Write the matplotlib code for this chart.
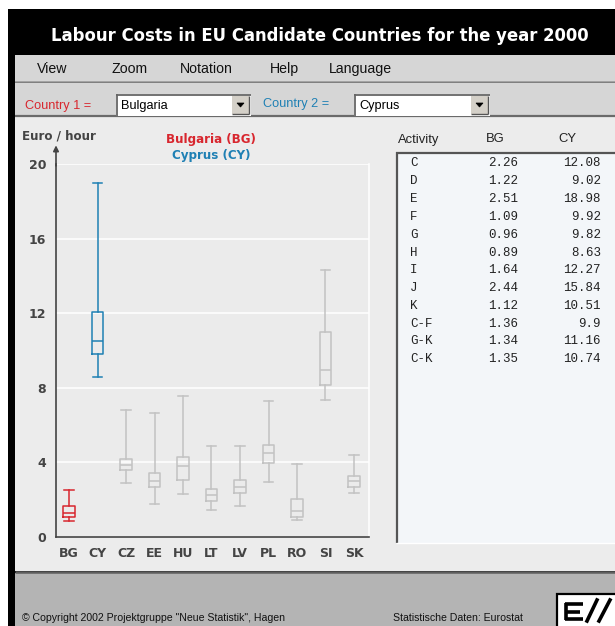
import matplotlib
matplotlib.use("Agg")
import matplotlib.pyplot as plt
from matplotlib.patches import Rectangle, Polygon

# ---------------- data ----------------
countries = ["BG", "CY", "CZ", "EE", "HU", "LT", "LV", "PL", "RO", "SI", "SK"]
whisk_lo = [0.86, 8.60, 2.89, 1.75, 2.29, 1.47, 1.68, 2.97, 0.93, 7.36, 2.36]
q1       = [1.08, 9.80, 3.57, 2.68, 3.04, 1.93, 2.36, 3.99, 1.07, 8.13, 2.68]
median   = [1.30, 10.51, 3.86, 3.00, 3.79, 2.25, 2.66, 4.49, 1.39, 8.95, 2.98]
q3       = [1.64, 12.08, 4.20, 3.45, 4.27, 2.57, 3.04, 4.93, 2.02, 11.01, 3.25]
whisk_hi = [2.51, 18.98, 6.81, 6.63, 7.58, 4.86, 4.86, 7.31, 3.91, 14.30, 4.38]

activities = ["C", "D", "E", "F", "G", "H", "I", "J", "K", "C-F", "G-K", "C-K"]
bg_values = ["2.26", "1.22", "2.51", "1.09", "0.96", "0.89", "1.64", "2.44", "1.12", "1.36", "1.34", "1.35"]
cy_values = ["12.08", "9.02", "18.98", "9.92", "9.82", "8.63", "12.27", "15.84", "10.51", "9.9", "11.16", "10.74"]

y_ticks = [0, 4, 8, 12, 16, 20]
menu_items = ["View", "Zoom", "Notation", "Help", "Language"]
title = "Labour Costs in EU Candidate Countries for the year 2000"

RED = "#d8262e"
BLUE = "#1f80b4"
GRAYBOX = "#c2c2c2"
AXCOL = "#444444"
UIFONT = "Liberation Sans"

W, H = 615, 626
fig = plt.figure(figsize=(W / 100, H / 100), dpi=100)
fig.patch.set_facecolor("white")

# background UI axes in pixel coordinates (y downward)
bg = fig.add_axes([0, 0, 1, 1])
bg.set_xlim(0, W)
bg.set_ylim(H, 0)
bg.axis("off")

def rect(x0, y0, x1, y1, fc, ec="none", lw=0, z=1):
    bg.add_patch(Rectangle((x0, y0), x1 - x0, y1 - y0, facecolor=fc,
                           edgecolor=ec, linewidth=lw, zorder=z))

def hline(x0, x1, y, c, lw=1, z=3):
    bg.plot([x0, x1], [y, y], color=c, lw=lw, zorder=z, solid_capstyle="butt")

def vline(x, y0, y1, c, lw=1, z=3):
    bg.plot([x, x], [y0, y1], color=c, lw=lw, zorder=z, solid_capstyle="butt")

# outer black frame / title bar
rect(8, 9, W, H, "black")
bg.text(320, 36, title, color="white", fontsize=11.9, ha="center", va="center",
        family="DejaVu Sans", fontweight="bold")

# menu bar
rect(15, 55, W, 82, "#d6d6d6", z=2)
hline(15, W, 82, "#9a9a9a", lw=1.2)
menu_x = [37, 111, 180, 270, 329]
for mx, item in zip(menu_x, menu_items):
    bg.text(mx, 69, item, fontsize=10.2, ha="left", va="center",
            family=UIFONT, color="#111111", zorder=4)

# country row
rect(15, 83, W, 115, "#d6d6d6", z=2)
hline(15, W, 116, "#6a6a6a", lw=1.6)
bg.text(25, 105.5, "Country 1 =", fontsize=9.2, color=RED, ha="left", va="center",
        family=UIFONT, zorder=4)
bg.text(263, 104.5, "Country 2 =", fontsize=9.2, color=BLUE, ha="left", va="center",
        family=UIFONT, zorder=4)

def combo(x0, x1, label):
    rect(x0, 94, x1, 116, "white", z=3)
    hline(x0, x1, 94.5, "#666666", lw=1.3, z=4)
    vline(x0 + 0.5, 94, 116, "#666666", lw=1.3, z=4)
    bx0, bx1 = x1 - 19, x1 - 2
    rect(bx0, 96, bx1, 113.5, "#d4d0c8", z=4)
    hline(bx0, bx1, 113.5, "#555555", lw=1, z=5)
    vline(bx1, 96, 113.5, "#555555", lw=1, z=5)
    cx, cy = (bx0 + bx1) / 2, 105
    bg.add_patch(Polygon([[cx - 3.5, cy - 2], [cx + 3.5, cy - 2], [cx, cy + 2]],
                         closed=True, facecolor="black", edgecolor="black",
                         lw=0.5, zorder=6))
    bg.text(x0 + 5, 105.5, label, fontsize=9.2, ha="left", va="center",
            family=UIFONT, color="black", zorder=5)

combo(116, 251, "Bulgaria")
combo(354, 490, "Cyprus")

# main panel
rect(15, 117, W, 571, "#ececec", z=2)
hline(15, W, 572, "#5e5e5e", lw=1.8)
rect(15, 573, W, H, "#b4b4b4", z=2)

# footer
bg.text(22, 618, "\u00a9 Copyright 2002 Projektgruppe \"Neue Statistik\", Hagen",
        fontsize=7.6, ha="left", va="center", family=UIFONT,
        color="#111111", zorder=4)
bg.text(393, 618, "Statistische Daten: Eurostat", fontsize=7.6, ha="left",
        va="center", family=UIFONT, color="#111111", zorder=4)
rect(557, 594, W + 2, H + 2, "white", ec="black", lw=1.6, z=4)
for yy, xe in ((604, 583), (611.5, 580), (619, 583)):
    hline(565, xe, yy, "black", lw=2.6, z=5)
vline(566, 603, 620, "black", lw=2.6, z=5)
bg.plot([587, 597], [621, 600], color="black", lw=2.6, zorder=5)
bg.plot([599, 610], [621, 600], color="black", lw=2.6, zorder=5)

# data table
rect(396, 152, W + 2, 543, "#f3f6f9", z=3)
hline(396, W, 152.8, "#555555", lw=1.6, z=4)
vline(396.8, 152, 543, "#555555", lw=1.6, z=4)
hline(396, W, 543, "#ffffff", lw=1, z=4)
bg.text(398, 139.5, "Activity", fontsize=9.4, ha="left", va="center",
        family=UIFONT, color="#222222", zorder=4)
bg.text(495, 139.5, "BG", fontsize=9.4, ha="center", va="center",
        family=UIFONT, color="#222222", zorder=4)
bg.text(567, 139.5, "CY", fontsize=9.4, ha="center", va="center",
        family=UIFONT, color="#222222", zorder=4)
for i, (a, b, c) in enumerate(zip(activities, bg_values, cy_values)):
    yy = 163.5 + i * 17.8
    bg.text(410, yy, a, fontsize=9, ha="left", va="center",
            family="Liberation Mono", color="#222222", zorder=5)
    bg.text(518, yy, b, fontsize=9, ha="right", va="center",
            family="Liberation Mono", color="#222222", zorder=5)
    bg.text(601, yy, c, fontsize=9, ha="right", va="center",
            family="Liberation Mono", color="#222222", zorder=5)

# plot labels
bg.text(22, 136, "Euro / hour", fontsize=8.6, fontweight="bold", ha="left",
        va="center", family="DejaVu Sans", color="#444444", zorder=4)
bg.text(211, 140, "Bulgaria (BG)", fontsize=8.6, fontweight="bold",
        ha="center", va="center", family="DejaVu Sans", color=RED, zorder=4)
bg.text(211, 155, "Cyprus (CY)", fontsize=8.6, fontweight="bold",
        ha="center", va="center", family="DejaVu Sans", color=BLUE, zorder=4)

# ---------------- box plot axes ----------------
px0, px1, py0, py1 = 56, 369, 164, 537
ax = fig.add_axes([px0 / W, (H - py1) / H, (px1 - px0) / W, (py1 - py0) / H])
ax.set_facecolor("#ebebeb")
ax.set_zorder(5)

stats = []
for i, name in enumerate(countries):
    stats.append(dict(label=name, whislo=whisk_lo[i], q1=q1[i], med=median[i],
                      q3=q3[i], whishi=whisk_hi[i], fliers=[]))

positions = list(range(len(countries)))
colors = [RED, BLUE] + [GRAYBOX] * (len(countries) - 2)
res = ax.bxp(stats, positions=positions, widths=0.42, capwidths=0.32,
             showfliers=False, patch_artist=False, manage_ticks=False)
for i, c in enumerate(colors):
    lw = 1.1
    res["boxes"][i].set(color=c, linewidth=lw)
    res["medians"][i].set(color=c, linewidth=lw)
    for j in (2 * i, 2 * i + 1):
        res["whiskers"][j].set(color=c, linewidth=lw)
        res["caps"][j].set(color=c, linewidth=lw)

ax.set_xlim(-13 / 28.5, 10 + 15 / 28.5)
ax.set_ylim(0, 20)
ax.set_yticks(y_ticks)
ax.set_yticklabels([str(t) for t in y_ticks])
ax.set_xticks(positions)
ax.set_xticklabels(countries)
ax.tick_params(length=0, labelsize=9, labelcolor=AXCOL, pad=7)
for lab in ax.get_xticklabels() + ax.get_yticklabels():
    lab.set_fontweight("bold")
    lab.set_family("DejaVu Sans")
ax.grid(axis="y", color="white", linewidth=1.1)
ax.set_axisbelow(True)
ax.spines["top"].set_visible(False)
ax.spines["right"].set_color("white")
ax.spines["right"].set_linewidth(1.1)
ax.spines["left"].set_color(AXCOL)
ax.spines["bottom"].set_color(AXCOL)
ax.spines["left"].set_linewidth(1.2)
ax.spines["bottom"].set_linewidth(1.2)
ax.annotate("", xy=(ax.get_xlim()[0], 21.0), xytext=(ax.get_xlim()[0], 19.9),
            xycoords="data", arrowprops=dict(arrowstyle="-|>", color=AXCOL,
                                            lw=1.2, mutation_scale=8,
                                            shrinkA=0, shrinkB=0),
            annotation_clip=False)

fig.savefig("out.png", dpi=100, facecolor=fig.get_facecolor())
